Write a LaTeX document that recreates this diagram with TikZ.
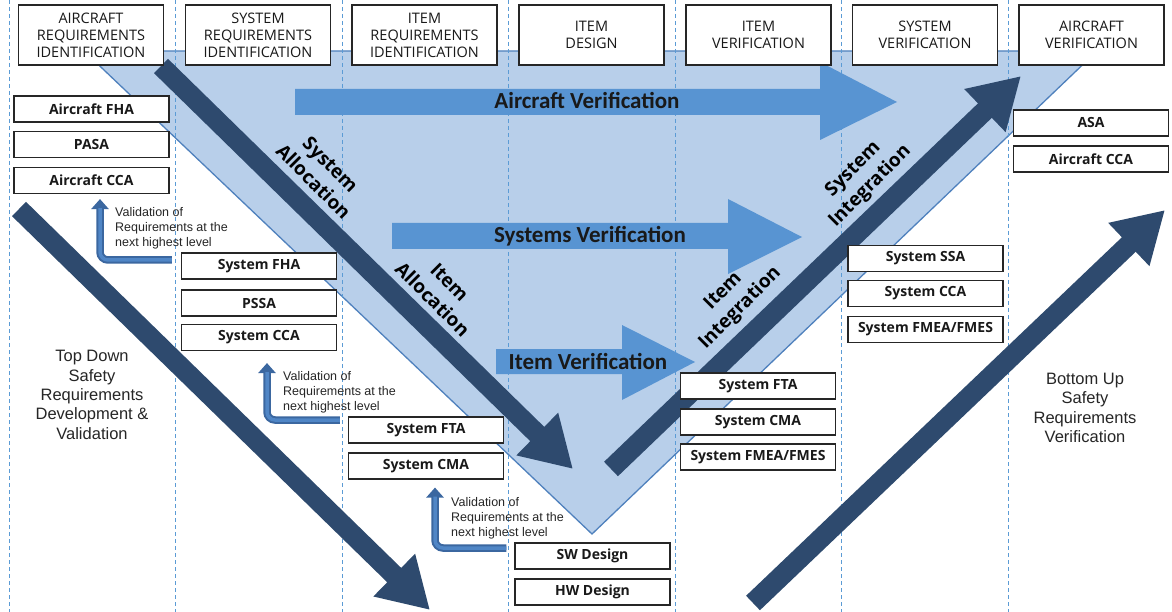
\documentclass[tikz,border=0pt]{standalone}
\usepackage{fontspec}
\setmainfont{Open Sans}
\newfontfamily\arialf{Liberation Sans}
\newfontfamily\calf{Carlito}
\usetikzlibrary{arrows.meta,calc}

\definecolor{tri}{RGB}{184,207,234}
\definecolor{triedge}{RGB}{79,129,189}
\definecolor{dashc}{RGB}{91,155,213}
\definecolor{lightarr}{RGB}{88,148,210}
\definecolor{darkarr}{RGB}{46,74,110}
\definecolor{valarr}{RGB}{59,103,160}
\definecolor{valin}{RGB}{80,134,198}
\definecolor{txtgray}{RGB}{38,38,38}

\begin{document}
\begin{tikzpicture}[x=1pt,y=-1pt,
 hdr/.style={draw=black!85, line width=1.1pt, fill=white, minimum width=145pt, minimum height=60pt, align=center, font=\fontsize{14.5}{17}\selectfont, text=black!90, inner sep=0pt},
 sbox/.style={draw=black!85, line width=1.1pt, fill=white, minimum width=155pt, minimum height=26pt, font=\bfseries\fontsize{14}{17}\selectfont, text=black!90, inner sep=0pt},
 blockarrow/.style={fill=lightarr, draw=none},
 blocklabel/.style={font=\calf\bfseries\fontsize{23}{26}\selectfont, text=black!90, inner sep=0pt},
 bigarrow/.style={draw=darkarr, line width=20pt, -{Triangle[width=56pt,length=50pt]}},
 rotlabel/.style={font=\bfseries\fontsize{19}{24}\selectfont, align=center, inner sep=0pt},
 valarrow/.style={draw=valarr, line width=7.5pt, rounded corners=8pt, -{Triangle[width=17pt,length=10pt]}},
 valinner/.style={draw=valin, line width=3.5pt, rounded corners=8pt, shorten >=9pt},
 valtext/.style={font=\arialf\fontsize{12.5}{15}\selectfont, text=txtgray, align=left, anchor=west, inner sep=0pt},
 sidetext/.style={font=\arialf\fontsize{16.5}{19.4}\selectfont, text=txtgray, align=center, inner sep=0pt},
 dashline/.style={draw=dashc, line width=0.9pt, dash pattern=on 4pt off 3pt}
]
\useasboundingbox (0,0) rectangle (1172,612);
\fill[white] (0,0) rectangle (1172,612);

% triangle
\coordinate (tl) at (84,51);
\coordinate (tr) at (1097,51);
\coordinate (tb) at (592,534);
\filldraw[fill=tri, draw=triedge, line width=1.3pt] (tl) -- (tr) -- (tb) -- cycle;

% dashed column lines
\foreach \x in {9,175.5,342,508.5,675,841.5,1008}
  \draw[dashline] (\x,0) -- (\x,612);

% light block arrows
\fill[blockarrow] (295,89) -- (820,89) -- (820,62) -- (897,102) -- (820,140) -- (820,115) -- (295,115) -- cycle;
\fill[blockarrow] (392,223) -- (728,223) -- (728,199) -- (802,237) -- (728,274) -- (728,249) -- (392,249) -- cycle;
\fill[blockarrow] (496,349) -- (622,349) -- (622,325) -- (695,362) -- (622,400) -- (622,374) -- (496,374) -- cycle;
\node[blocklabel] (lav) at (587,101) {Aircraft Verification};
\node[blocklabel] (lsv) at (590,236) {Systems Verification};
\node[blocklabel] (liv) at (588,361) {Item Verification};

% dark arrows
\coordinate (sa1) at (161,66);   \coordinate (sa2) at (573,469);
\coordinate (td1) at (19,209);   \coordinate (td2) at (430,610);
\coordinate (si1) at (611,469);  \coordinate (si2) at (1021,76);
\coordinate (bu1) at (753,603);  \coordinate (bu2) at (1165,210);
\draw[bigarrow] (sa1) -- (sa2);
\draw[bigarrow] (td1) -- (td2);
\draw[bigarrow] (si1) -- (si2);
\draw[bigarrow] (bu1) -- (bu2);

% rotated labels
\node[rotlabel, rotate=-45] (lsa) at (322,173) {System\\Allocation};
\node[rotlabel, rotate=-45] (lia) at (441,291) {Item\\Allocation};
\node[rotlabel, rotate=45] (lii) at (732,300) {Item\\Integration};
\node[rotlabel, rotate=45] (lsi) at (862,178) {System\\Integration};

% header boxes
\node[hdr] (h1) at (91,35) {AIRCRAFT\\REQUIREMENTS\\IDENTIFICATION};
\node[hdr] (h2) at (258,35) {SYSTEM\\REQUIREMENTS\\IDENTIFICATION};
\node[hdr] (h3) at (424.5,35) {ITEM\\REQUIREMENTS\\IDENTIFICATION};
\node[hdr] (h4) at (591.5,35) {ITEM\\DESIGN};
\node[hdr] (h5) at (758.5,35) {ITEM\\VERIFICATION};
\node[hdr] (h6) at (925,35) {SYSTEM\\VERIFICATION};
\node[hdr] (h7) at (1091.5,35) {AIRCRAFT\\VERIFICATION};

% side boxes
\node[sbox] (afha) at (91.5,109) {Aircraft FHA};
\node[sbox] (pasa) at (91.5,144.5) {PASA};
\node[sbox] (acca) at (91.5,180.5) {Aircraft CCA};
\node[sbox] (sfha) at (259,266) {System FHA};
\node[sbox] (pssa) at (259,303) {PSSA};
\node[sbox] (scca) at (259,337.5) {System CCA};
\node[sbox] (sfta) at (426,430) {System FTA};
\node[sbox] (scma) at (426,466) {System CMA};
\node[sbox] (swd) at (592.5,556) {SW Design};
\node[sbox] (hwd) at (592.5,592) {HW Design};
\node[sbox] (ifta) at (758,386) {System FTA};
\node[sbox] (icma) at (758,422) {System CMA};
\node[sbox] (ifme) at (758,457) {System FMEA/FMES};
\node[sbox] (sssa) at (925.5,258.5) {System SSA};
\node[sbox] (vcca) at (925.5,293.5) {System CCA};
\node[sbox] (vfme) at (925.5,329.5) {System FMEA/FMES};
\node[sbox] (asa) at (1091,123) {ASA};
\node[sbox] (aacca) at (1091,159) {Aircraft CCA};

% validation arrows
\draw[valarrow] ($(sfha.west)+(-9,-6)$) -| ($(acca.south)+(8.5,5)$);
\draw[valinner] ($(sfha.west)+(-9,-6)$) -| ($(acca.south)+(8.5,5)$);
\draw[valarrow] ($(sfta.west)+(-8,-10)$) -| ($(scca.south)+(8,12)$);
\draw[valinner] ($(sfta.west)+(-8,-10)$) -| ($(scca.south)+(8,12)$);
\draw[valarrow] ($(swd.west)+(-8,-8)$) -| ($(scma.south)+(9,8)$);
\draw[valinner] ($(swd.west)+(-8,-8)$) -| ($(scma.south)+(9,8)$);

\node[valtext] (vt1) at (115,228) {Validation of\\Requirements at the\\next highest level};
\node[valtext] (vt2) at (283,392) {Validation of\\Requirements at the\\next highest level};
\node[valtext] (vt3) at (451,518) {Validation of\\Requirements at the\\next highest level};

% side texts
\node[sidetext] (tdt) at (92,395) {Top Down\\Safety\\Requirements\\Development \&\\Validation};
\node[sidetext] (but) at (1085,408) {Bottom Up\\Safety\\Requirements\\Verification};
\end{tikzpicture}
\end{document}
